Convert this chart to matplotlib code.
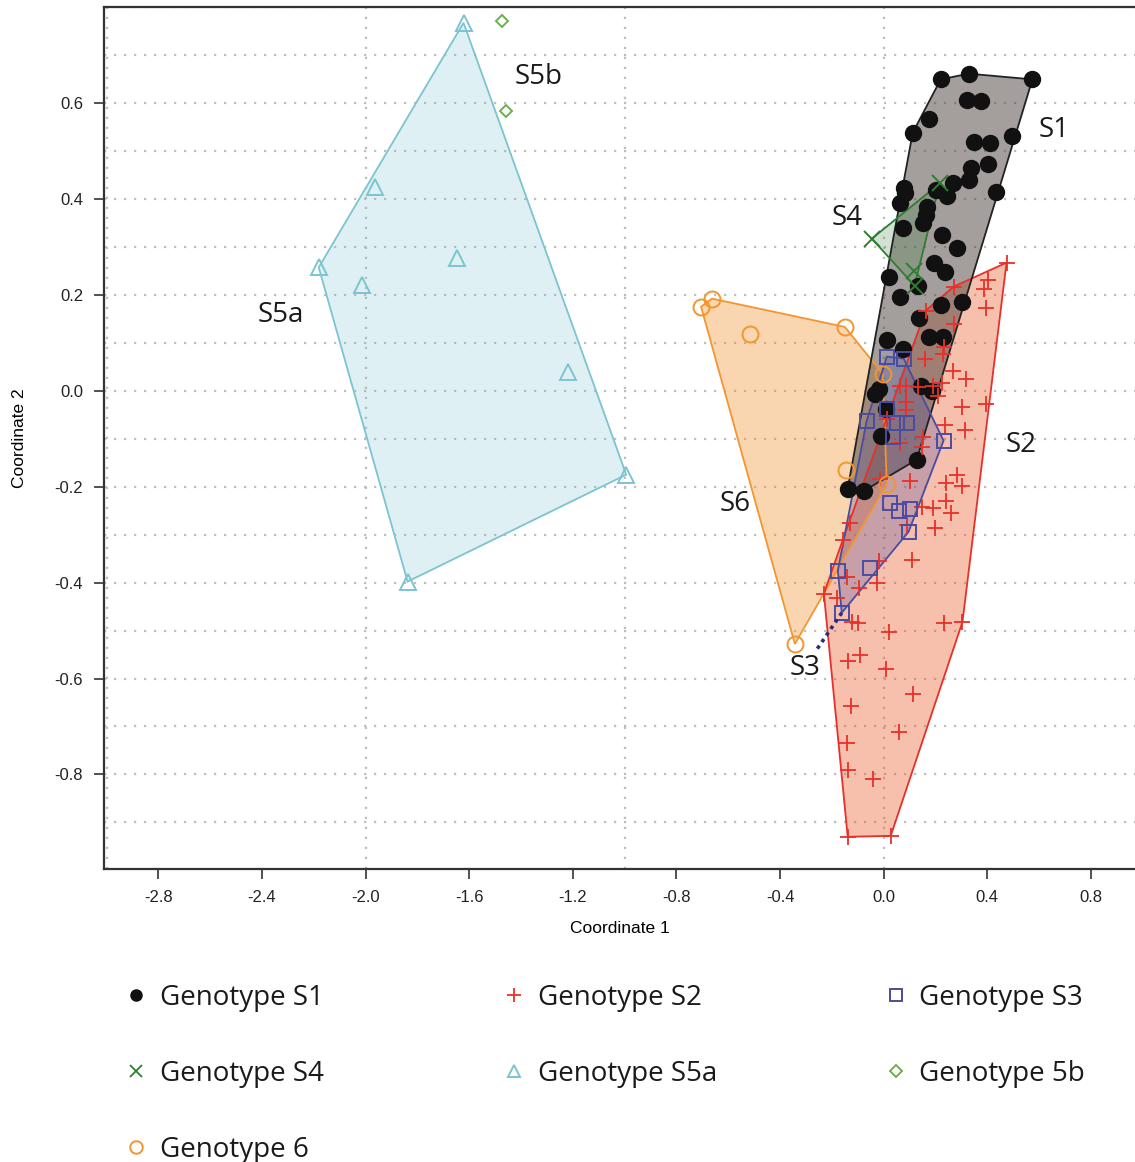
import numpy as np
import matplotlib
matplotlib.use("Agg")
import matplotlib.pyplot as plt
from matplotlib.ticker import MultipleLocator
from matplotlib.lines import Line2D

plt.rcParams['axes.unicode_minus'] = False
plt.rcParams['font.family'] = ['Liberation Sans', 'DejaVu Sans']

# coordinates (Coordinate 1, Coordinate 2)
s1_x = [0.220, 0.328, 0.574, 0.320, 0.374, 0.173, 0.112, 0.347, 0.412, 0.497,
        0.335, 0.401, 0.328, 0.266, 0.200, 0.243, 0.435, 0.077, 0.081, 0.062,
        0.166, 0.162, 0.150, 0.073, 0.224, 0.281, 0.193, 0.235, 0.019, 0.062,
        0.220, 0.301, 0.135, 0.173, 0.227, 0.012, 0.073, 0.143, 0.185, -0.019,
        -0.035, 0.008, -0.012, 0.127, -0.139, -0.077, 0.131]
s1_y = [0.649, 0.661, 0.649, 0.607, 0.605, 0.567, 0.538, 0.519, 0.517, 0.530,
        0.465, 0.473, 0.440, 0.432, 0.419, 0.405, 0.415, 0.423, 0.413, 0.392,
        0.384, 0.367, 0.350, 0.340, 0.325, 0.298, 0.267, 0.248, 0.238, 0.196,
        0.179, 0.184, 0.152, 0.111, 0.113, 0.106, 0.086, 0.010, 0.000, 0.004,
        -0.006, -0.038, -0.094, -0.144, -0.204, -0.209, 0.219]

s2_x = [0.474, 0.401, 0.389, 0.393, 0.270, 0.162, 0.270, 0.231, 0.227, 0.158,
        0.266, 0.316, 0.224, 0.062, 0.085, 0.131, 0.189, 0.208, 0.393, 0.304,
        0.085, 0.085, 0.012, 0.235, 0.312, 0.150, 0.062, 0.146, 0.281, 0.301,
        0.239, 0.100, -0.015, 0.239, 0.189, 0.258, 0.146, 0.089, 0.197, -0.131,
        -0.158, 0.108, -0.019, -0.143, -0.027, -0.096, -0.231, -0.181, -0.123, -0.100,
        0.231, 0.304, 0.019, -0.139, -0.092, 0.008, 0.112, -0.127, 0.058, -0.143,
        -0.139, -0.042, -0.139, 0.027]
s2_y = [0.267, 0.231, 0.213, 0.173, 0.217, 0.167, 0.140, 0.092, 0.077, 0.067,
        0.042, 0.025, 0.017, 0.010, 0.010, 0.008, 0.010, -0.010, -0.027, -0.035,
        -0.023, -0.040, -0.060, -0.071, -0.081, -0.096, -0.108, -0.117, -0.175, -0.198,
        -0.192, -0.188, -0.184, -0.229, -0.244, -0.254, -0.242, -0.279, -0.286, -0.275,
        -0.311, -0.352, -0.355, -0.388, -0.400, -0.411, -0.423, -0.432, -0.482, -0.484,
        -0.484, -0.482, -0.503, -0.563, -0.551, -0.580, -0.632, -0.657, -0.711, -0.734,
        -0.790, -0.809, -0.930, -0.928]

s3_x = [0.012, 0.077, 0.012, -0.066, 0.050, 0.089, 0.035, 0.231, 0.023, 0.058,
        0.100, 0.096, -0.177, -0.054, -0.162]
s3_y = [0.071, 0.067, -0.038, -0.063, -0.067, -0.067, -0.096, -0.104, -0.234, -0.250,
        -0.246, -0.294, -0.375, -0.369, -0.463]

s4_x = [0.216, -0.046, 0.116, 0.119]
s4_y = [0.432, 0.317, 0.250, 0.219]

s5a_x = [-1.622, -1.965, -2.181, -1.649, -2.015, -1.218, -0.994, -1.838]
s5a_y = [0.767, 0.425, 0.257, 0.277, 0.221, 0.038, -0.175, -0.398]

s5b_x = [-1.472, -1.457]
s5b_y = [0.770, 0.584]

s6_x = [-0.705, -0.663, -0.516, -0.150, -0.004, -0.146, 0.012, -0.343]
s6_y = [0.175, 0.192, 0.119, 0.133, 0.035, -0.165, -0.194, -0.528]

# group labels inside the plot
label_text = ['S1', 'S2', 'S3', 'S4', 'S5a', 'S5b', 'S6']
label_x = [0.659, 0.532, -0.304, -0.143, -2.328, -1.333, -0.574]
label_y = [0.544, -0.113, -0.578, 0.361, 0.158, 0.655, -0.236]

x_ticks = [-2.8, -2.4, -2.0, -1.6, -1.2, -0.8, -0.4, 0.0, 0.4, 0.8]
y_ticks = [-0.8, -0.6, -0.4, -0.2, 0.0, 0.2, 0.4, 0.6]
x_grid = [-3.0, -2.0, -1.0, 0.0]


def hull(xs, ys):
    pts = sorted(set(zip(xs, ys)))
    def cross(o, a, b):
        return (a[0] - o[0]) * (b[1] - o[1]) - (a[1] - o[1]) * (b[0] - o[0])
    lower, upper = [], []
    for p in pts:
        while len(lower) >= 2 and cross(lower[-2], lower[-1], p) <= 0:
            lower.pop()
        lower.append(p)
    for p in reversed(pts):
        while len(upper) >= 2 and cross(upper[-2], upper[-1], p) <= 0:
            upper.pop()
        upper.append(p)
    return np.array(lower[:-1] + upper[:-1])


fig = plt.figure(figsize=(11.35, 11.62), dpi=100)
ax = fig.add_axes([0.0916, 0.2522, 0.9084, 0.7418])

# hull polygons (fill + edge)
groups = [
    (s5a_x, s5a_y, '#7cc4d0', 0.25),
    (s6_x, s6_y, '#f39530', 0.38),
    (s2_x, s2_y, '#e85a28', 0.38),
    (s1_x, s1_y, '#4a403c', 0.5),
    (s4_x, s4_y, '#2e7d32', 0.22),
    (s3_x, s3_y, '#4b4ba0', 0.28),
]
edge_cols = ['#7cc4d0', '#f39530', '#e8302a', '#222222', '#2e7d32', '#4b4ba0']
for (gx, gy, col, a), ec in zip(groups, edge_cols):
    h = hull(gx, gy)
    ax.fill(h[:, 0], h[:, 1], facecolor=col, alpha=a, edgecolor='none', zorder=2)
    ax.fill(h[:, 0], h[:, 1], facecolor='none', edgecolor=ec, linewidth=1.3, zorder=3)

# markers
ax.plot(s1_x, s1_y, 'o', color='#111111', markersize=11.5, linestyle='none', zorder=4)
ax.plot(s2_x, s2_y, '+', color='#e8302a', markersize=12, markeredgewidth=1.3, linestyle='none', zorder=5)
ax.plot(s3_x, s3_y, 's', markerfacecolor='none', markeredgecolor='#4b4ba0', markersize=10.5,
        markeredgewidth=1.4, linestyle='none', zorder=5)
ax.plot(s4_x, s4_y, 'x', color='#2e7d32', markersize=12, markeredgewidth=1.4, linestyle='none', zorder=5)
ax.plot(s5a_x, s5a_y, '^', markerfacecolor='none', markeredgecolor='#7cc4d0', markersize=11,
        markeredgewidth=1.4, linestyle='none', zorder=5)
ax.plot(s5b_x, s5b_y, 'D', markerfacecolor='none', markeredgecolor='#6ab04c', markersize=6.5,
        markeredgewidth=1.4, linestyle='none', zorder=5)
ax.plot(s6_x, s6_y, 'o', markerfacecolor='none', markeredgecolor='#f39530', markersize=11.5,
        markeredgewidth=1.4, linestyle='none', zorder=5)

# dotted leader from lowest S3 point to its label
i3 = int(np.argmin(s3_y))
j3 = label_text.index('S3')
ax.plot([s3_x[i3], label_x[j3] + 0.04], [s3_y[i3], label_y[j3] + 0.034], color='#2f2a7a',
        linestyle=(0, (1, 1.2)), linewidth=2.6, zorder=6)

for t, lx, ly in zip(label_text, label_x, label_y):
    ax.text(lx, ly, t, fontsize=20, family=['Open Sans', 'DejaVu Sans'], color='#1a1a1a',
            ha='center', va='center', zorder=7)

ax.set_xlim(-3.01, 0.97)
ax.set_ylim(-0.997, 0.80)
ax.set_xticks(x_ticks)
ax.set_xticklabels(['%.1f' % v for v in x_ticks])
ax.set_yticks(y_ticks)
ax.set_yticklabels(['%.1f' % v for v in y_ticks])
ax.yaxis.set_minor_locator(MultipleLocator(0.1))
grid_style = dict(color='#bdbdbd', linestyle=(0, (1, 3.5)), linewidth=1.6)
ax.grid(which='both', axis='y', **grid_style)
ax.grid(which='both', axis='x', visible=False)
for gx in x_grid:
    ax.axvline(gx, zorder=0.5, **grid_style)
ax.set_axisbelow(True)
ax.tick_params(which='minor', length=0)
ax.tick_params(which='major', direction='out', length=7, width=1.2, labelsize=12, color='#333333',
               labelcolor='#222222', pad=8)
for side in ['left', 'bottom', 'top']:
    ax.spines[side].set_linewidth(1.6)
    ax.spines[side].set_color('#333333')
ax.spines['right'].set_visible(False)
ax.set_xlabel('Coordinate 1', fontsize=12.5, labelpad=12)
ax.set_ylabel('Coordinate 2', fontsize=12.5, labelpad=20)

# legend in three columns
handles = {
    'Genotype S1': Line2D([], [], marker='o', color='#111111', linestyle='none', markersize=8),
    'Genotype S4': Line2D([], [], marker='x', color='#2e7d32', linestyle='none', markersize=9, markeredgewidth=1.3),
    'Genotype 6': Line2D([], [], marker='o', markerfacecolor='none', markeredgecolor='#f39530', linestyle='none', markersize=9, markeredgewidth=1.4),
    'Genotype S2': Line2D([], [], marker='+', color='#e8302a', linestyle='none', markersize=10, markeredgewidth=1.3),
    'Genotype S5a': Line2D([], [], marker='^', markerfacecolor='none', markeredgecolor='#7cc4d0', linestyle='none', markersize=9, markeredgewidth=1.4),
    'Genotype S3': Line2D([], [], marker='s', markerfacecolor='none', markeredgecolor='#4b4ba0', linestyle='none', markersize=8.5, markeredgewidth=1.4),
    'Genotype 5b': Line2D([], [], marker='D', markerfacecolor='none', markeredgecolor='#6ab04c', linestyle='none', markersize=6.5, markeredgewidth=1.4),
}
columns = [['Genotype S1', 'Genotype S4', 'Genotype 6'],
           ['Genotype S2', 'Genotype S5a'],
           ['Genotype S3', 'Genotype 5b']]
col_x = [0.097, 0.430, 0.766]
for names, cx in zip(columns, col_x):
    fig.legend([handles[n] for n in names], names, loc='upper left', bbox_to_anchor=(cx, 0.165),
               frameon=False, borderpad=0, handlelength=0.9, handletextpad=0.4, labelspacing=1.72,
               prop={'family': ['Open Sans', 'DejaVu Sans'], 'size': 20}, labelcolor='#1a1a1a')

fig.savefig('out.png', dpi=100)
